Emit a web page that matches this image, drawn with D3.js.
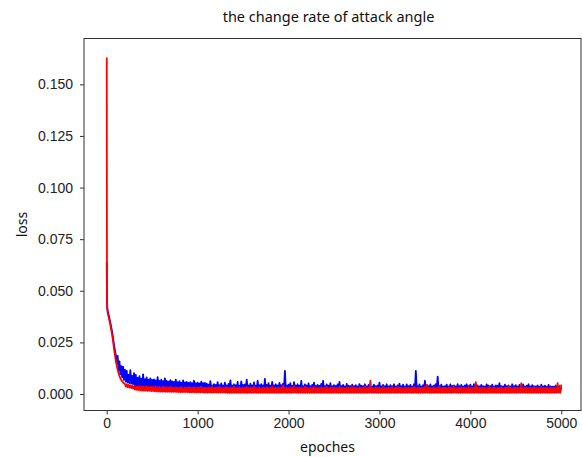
<!DOCTYPE html>
<html>
<head>
<meta charset="utf-8">
<script src="https://cdn.jsdelivr.net/npm/d3@7"></script>
<style>
  body { margin: 0; background: #fff; }
  svg { display: block; font-family: "Noto Sans", sans-serif; }
  .axis path, .axis line { stroke: #333; }
  .axis text { fill: #222; font-size: 14px; }
</style>
</head>
<body>
<svg id="chart" width="582" height="457"></svg>
<script>
// loss values below are written in units of 1e-4
var LOSS_UNIT = 1e-4;

// sampled epochs: a few at the very start, then every 10
var epochs = [0, 3, 6].concat(d3.range(10, 5001, 10));

// blue curve
var blueLoss = [
  640, 450, 420,
  405, 385, 365, 345, 322, 298, 270, 238, 212, 188,
  150, 185, 115, 158, 95, 135, 80, 132, 68, 118,
  60, 112, 55, 93, 52, 115, 50, 88, 48, 101,
  // 310 - 500
  38,92,36,78,35,86,34,74,33,95,32,72,31,80,31,70,30,76,30,68,
  29,71,29,66,28,82,28,64,27,69,27,62,27,76,26,63,26,60,26,67,
  25,61,25,58,25,70,24,57,24,62,24,55,24,66,23,56,23,59,23,54,
  23,57,22,53,22,64,22,52,22,55,22,51,22,60,21,52,21,54,21,50,
  // 1110 - 1300
  21,45,21,62,21,42,21,48,21,44,21,57,20,43,20,51,20,41,20,55,
  20,42,20,49,20,66,20,41,20,47,20,43,20,58,20,40,20,61,20,44,
  20,46,20,70,20,41,20,50,20,42,20,56,20,40,20,64,20,43,20,48,
  20,41,20,73,20,44,20,52,20,40,20,59,20,42,20,47,20,41,20,54,
  // 1910 - 2100
  19,43,19,50,19,112,19,40,19,45,19,52,19,39,19,57,19,41,19,47,
  19,40,19,63,19,38,19,46,19,41,19,51,19,38,19,44,19,55,19,39,
  19,44,19,39,19,49,19,64,19,38,19,46,19,40,19,52,19,38,19,43,
  19,39,19,46,19,58,19,38,19,44,19,37,19,49,19,40,19,38,19,45,
  19,38,19,43,19,37,19,48,19,40,19,38,19,47,19,37,19,44,19,39,
  // 2910 - 3100
  19,37,19,45,19,38,19,41,19,55,19,37,19,44,19,38,19,47,19,37,
  19,43,19,38,19,47,19,37,19,42,19,50,19,38,19,45,19,37,19,46,
  19,38,19,44,19,37,19,47,19,112,19,38,19,46,19,37,19,43,19,64,
  19,44,19,38,19,46,19,37,19,42,19,48,19,84,19,38,19,45,19,37,
  19,38,19,45,19,37,19,46,19,39,19,42,19,37,19,48,19,38,19,44,
  // 3910 - 4100
  19,37,19,42,19,47,19,38,19,45,19,37,19,48,19,38,19,42,19,37,
  19,44,19,38,19,37,19,46,19,41,19,38,19,45,19,37,19,42,19,40,
  19,52,19,38,19,37,19,45,19,38,19,42,19,37,19,47,19,38,19,43,
  19,37,19,44,19,38,19,46,19,37,19,40,19,47,19,37,19,43,19,38,
  19,37,19,42,19,36,19,45,19,37,19,40,19,36,19,44,19,37,19,36,
  // 4910 - 5000
  19,36,19,41,19,35,19,38,18,33
];

// red curve
var redLoss = [
  1630, 440, 410,
  395, 375, 355, 335, 310, 285, 255, 220, 190, 162,
  138, 118, 101, 87, 76, 68, 61, 56, 52, 49,
  36, 47, 33, 44, 31, 42, 29, 40, 27, 38,
  // 310 - 500
  22,38,20,36,19,37,18,35,17,36,16,34,16,37,15,33,15,35,14,34,
  14,33,13,35,13,32,12,34,12,31,12,36,11,32,11,33,11,30,11,34,
  10,32,10,29,10,33,10,31,9,30,9,34,9,28,9,32,9,30,9,33,
  8,31,8,29,8,33,8,28,8,32,8,30,8,35,8,29,7,31,7,28,
  // 1110 - 1300
  7,32,7,29,7,34,7,28,7,31,7,30,7,36,7,28,7,31,7,29,
  7,33,6,28,6,31,6,29,6,35,6,28,6,30,6,32,6,27,6,31,
  6,29,6,34,6,28,6,31,6,30,6,37,6,28,6,30,6,32,6,27,
  6,31,6,29,6,33,6,28,6,30,6,35,6,27,6,31,6,29,6,32,
  // 1910 - 2100
  6,30,6,42,6,29,6,31,6,28,6,33,6,30,6,38,6,27,6,31,
  6,29,6,32,6,28,6,36,6,30,6,27,6,31,6,29,6,34,6,28,
  6,31,6,28,6,33,6,29,6,30,6,35,6,27,6,31,6,29,6,32,
  6,28,6,30,6,34,6,29,6,31,6,27,6,33,6,30,6,28,6,36,
  6,29,6,31,6,28,6,33,6,30,6,29,6,35,6,28,6,31,6,64,
  // 2910 - 3100
  6,30,6,28,6,32,6,29,6,31,6,27,6,34,6,30,6,28,6,31,
  6,29,6,33,6,28,6,30,6,36,6,29,6,31,6,27,6,32,6,30,
  6,28,6,31,6,29,6,34,6,30,6,28,6,32,6,29,6,31,6,33,
  6,44,6,29,6,31,6,28,6,33,6,30,6,29,6,35,6,28,6,31,
  6,30,6,28,6,32,6,29,6,31,6,37,6,28,6,30,6,29,6,33,
  // 3910 - 4100
  6,29,6,31,6,28,6,33,6,30,6,29,6,31,6,57,6,28,6,30,
  6,32,6,29,6,31,6,28,6,34,6,30,6,29,6,32,6,28,6,31,
  6,30,6,33,6,28,6,31,6,29,6,36,6,30,6,28,6,32,6,29,
  6,31,6,28,6,52,6,30,6,29,6,32,6,28,6,31,6,30,6,33,
  6,29,6,31,6,28,6,34,6,30,6,29,6,32,6,28,6,31,6,30,
  // 4910 - 5000
  6,29,6,32,6,52,6,30,6,45
];

var xTicks = [0, 1000, 2000, 3000, 4000, 5000];
var yTicks = [0, 0.025, 0.05, 0.075, 0.1, 0.125, 0.15];

var svg = d3.select('#chart'),
    plot = {left: 84, top: 38.5, right: 581, bottom: 410.5};

var x = d3.scaleLinear().domain([-250, 5250]).range([plot.left, plot.left + 500]);
var y = d3.scaleLinear().domain([-0.008, 0.1722]).range([plot.bottom, plot.top]);

svg.append('clipPath').attr('id', 'clip')
   .append('rect')
   .attr('x', plot.left).attr('y', plot.top)
   .attr('width', plot.right - plot.left).attr('height', plot.bottom - plot.top);

var line = d3.line()
    .x(function (d) { return x(d[0]); })
    .y(function (d) { return y(d[1] * LOSS_UNIT); });

var series = [
  {name: 'blue', color: '#0000ff', values: blueLoss},
  {name: 'red', color: '#ff0000', values: redLoss}
];

var lines = svg.append('g').attr('clip-path', 'url(#clip)');
series.forEach(function (s) {
  lines.append('path')
       .datum(epochs.map(function (e, i) { return [e, s.values[i]]; }))
       .attr('d', line)
       .attr('fill', 'none')
       .attr('stroke', s.color)
       .attr('stroke-width', 1.8)
       .attr('stroke-linejoin', 'round');
});

// frame
svg.append('rect')
   .attr('x', plot.left).attr('y', plot.top)
   .attr('width', plot.right - plot.left).attr('height', plot.bottom - plot.top)
   .attr('fill', 'none').attr('stroke', '#333').attr('stroke-width', 1);

var xAxis = svg.append('g')
   .attr('class', 'axis')
   .attr('transform', 'translate(0,' + plot.bottom + ')')
   .call(d3.axisBottom(x).tickValues(xTicks).tickFormat(d3.format('d')).tickSize(4).tickPadding(4));
xAxis.select('.domain').remove();

var yAxis = svg.append('g')
   .attr('class', 'axis')
   .attr('transform', 'translate(' + plot.left + ',0)')
   .call(d3.axisLeft(y).tickValues(yTicks).tickFormat(d3.format('.3f')).tickSize(4).tickPadding(7));
yAxis.select('.domain').remove();

svg.append('text')
   .attr('x', (plot.left + plot.right) / 2 - 4)
   .attr('y', 22)
   .attr('text-anchor', 'middle')
   .style('font-size', '14.5px')
   .attr('fill', '#111')
   .text('the change rate of attack angle');

svg.append('text')
   .attr('x', (plot.left + plot.right) / 2 - 5)
   .attr('y', 452)
   .attr('text-anchor', 'middle')
   .style('font-size', '14px')
   .attr('fill', '#111')
   .text('epoches');

svg.append('text')
   .attr('transform', 'translate(27,' + ((plot.top + plot.bottom) / 2) + ') rotate(-90)')
   .attr('text-anchor', 'middle')
   .style('font-size', '14px')
   .attr('fill', '#111')
   .text('loss');
</script>
</body>
</html>
